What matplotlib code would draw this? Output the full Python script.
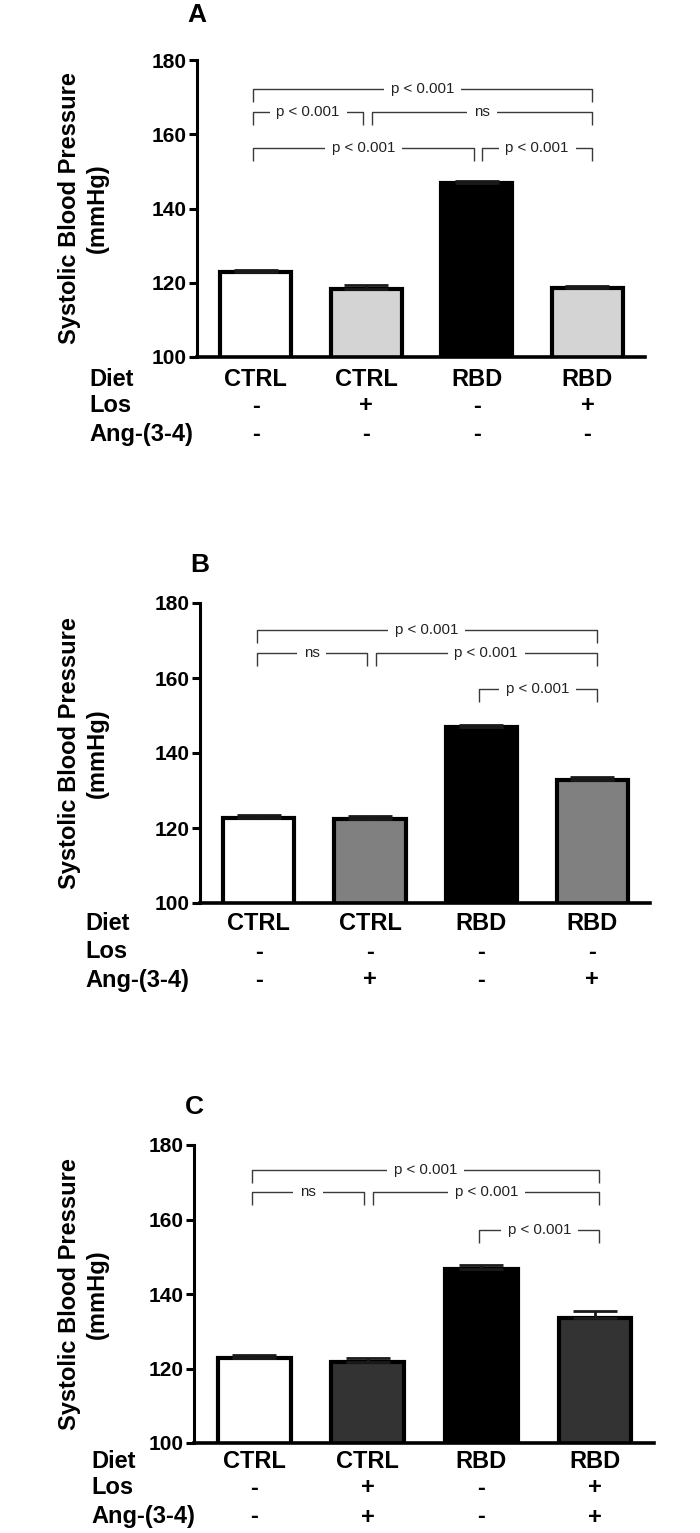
import matplotlib
matplotlib.use("Agg")
import matplotlib.pyplot as plt

plt.rcParams["font.family"] = ["Liberation Sans", "DejaVu Sans"]

W, H, DPI = 700, 1533, 100

# ---------------- data ----------------
diet = ["CTRL", "CTRL", "RBD", "RBD"]
row_names = ["Diet", "Los", "Ang-(3-4)"]

los_A = ["-", "+", "-", "+"]
ang_A = ["-", "-", "-", "-"]
los_B = ["-", "-", "-", "-"]
ang_B = ["-", "+", "-", "+"]
los_C = ["-", "+", "-", "+"]
ang_C = ["-", "+", "-", "+"]

sbp_A = [122.8, 118.4, 147.0, 118.6]
err_A = [0.6, 1.0, 0.5, 0.5]
sbp_B = [122.8, 122.4, 147.0, 132.8]
err_B = [0.6, 0.7, 0.4, 0.9]
sbp_C = [122.8, 121.7, 146.8, 133.5]
err_C = [0.9, 1.2, 0.9, 2.0]

colors_A = ["white", "#d4d4d4", "black", "#d4d4d4"]
colors_B = ["white", "#808080", "black", "#808080"]
colors_C = ["white", "#333333", "black", "#333333"]

# comparisons: (group i, group j, bracket height mmHg, label)
brk_A = [(0, 3, 172.2, "p < 0.001"), (0, 1, 166.0, "p < 0.001"), (1, 3, 166.0, "ns"),
         (0, 2, 156.2, "p < 0.001"), (2, 3, 156.2, "p < 0.001")]
brk_B = [(0, 3, 172.8, "p < 0.001"), (0, 1, 166.7, "ns"), (1, 3, 166.7, "p < 0.001"),
         (2, 3, 157.0, "p < 0.001")]
brk_C = [(0, 3, 173.3, "p < 0.001"), (0, 1, 167.5, "ns"), (1, 3, 167.5, "p < 0.001"),
         (2, 3, 157.2, "p < 0.001")]

yticks = [100, 120, 140, 160, 180]
ylim = (100, 180)
ylabel = "Systolic Blood Pressure\n(mmHg)"

# ---------------- layout (pixels) ----------------
panels = [
    dict(letter="A", box=(197, 60, 645, 357), vals=sbp_A, errs=err_A, cols=colors_A,
         los=los_A, ang=ang_A, brk=brk_A, letter_y=15, rowx=89, rows=(22, 49, 77)),
    dict(letter="B", box=(200, 603, 650, 903), vals=sbp_B, errs=err_B, cols=colors_B,
         los=los_B, ang=ang_B, brk=brk_B, letter_y=565, rowx=85, rows=(21, 49, 77)),
    dict(letter="C", box=(194, 1145, 654, 1443), vals=sbp_C, errs=err_C, cols=colors_C,
         los=los_C, ang=ang_C, brk=brk_C, letter_y=1107, rowx=91, rows=(18, 45, 74)),
]

fig = plt.figure(figsize=(W / DPI, H / DPI), dpi=DPI)
PT = 72.0 / DPI  # points per pixel

for p in panels:
    x0, y0, x1, y1 = p["box"]
    ax = fig.add_axes([x0 / W, 1 - y1 / H, (x1 - x0) / W, (y1 - y0) / H])
    xs = list(range(len(diet)))
    ax.bar(xs, p["vals"], width=0.64, color=p["cols"], edgecolor="black",
           linewidth=3.0, zorder=2)
    ax.errorbar(xs, p["vals"], yerr=[[0] * len(xs), p["errs"]], fmt="none",
                ecolor="#1a1a1a", elinewidth=2.0, capsize=16, capthick=2.0, zorder=3)
    ax.set_xlim(-0.53, 3.52)
    ax.set_ylim(*ylim)
    ax.set_yticks(yticks)
    ax.set_yticklabels([str(t) for t in yticks], fontweight="bold", fontsize=15)
    ax.set_xticks([])
    for s in ("top", "right"):
        ax.spines[s].set_visible(False)
    ax.spines["left"].set_linewidth(2.2)
    ax.spines["bottom"].set_linewidth(2.6)
    ax.tick_params(axis="y", length=5.8, width=2.2, pad=2)

    # significance brackets
    for (i, j, yb, lab) in p["brk"]:
        same = [b for b in p["brk"] if b[2] == yb and b != (i, j, yb, lab)]
        xa = i + (0.05 if any(b[1] == i for b in same) else -0.02)
        xb = j + (0.04 if j == 3 else (-0.03 if any(b[0] == j for b in same) else 0))
        leg = 3.5
        ax.plot([xa, xa, xb, xb], [yb - leg, yb, yb, yb - leg], color="#3a3a3a",
                lw=1.0, solid_capstyle="butt", zorder=4, clip_on=False)
        ax.text((xa + xb) / 2, yb, lab, ha="center", va="center", fontsize=10.8,
                color="#222222", zorder=5,
                bbox=dict(boxstyle="square,pad=0.45", fc="white", ec="none"))

    # group labels under bars
    rows = [diet, p["los"], p["ang"]]
    for r, (vals, off) in enumerate(zip(rows, p["rows"])):
        for k, v in enumerate(vals):
            ax.annotate(v, xy=(k, 0), xycoords=("data", "axes fraction"),
                        xytext=(0, -off * PT), textcoords="offset points",
                        ha="center", va="center", fontsize=17, fontweight="bold",
                        annotation_clip=False)
        fig.text(p["rowx"] / W, 1 - (y1 + off) / H, row_names[r], ha="left",
                 va="center", fontsize=17, fontweight="bold")

    # y label
    fig.text(83.5 / W, 1 - ((y0 + y1) / 2) / H, ylabel, rotation=90, ha="center",
             va="center", fontsize=17, fontweight="bold", multialignment="center",
             linespacing=1.3)

    # panel letter
    fig.text(x0 / W, 1 - p["letter_y"] / H, p["letter"], ha="center", va="center",
             fontsize=19, fontweight="bold")

fig.savefig("out.png", dpi=DPI)
